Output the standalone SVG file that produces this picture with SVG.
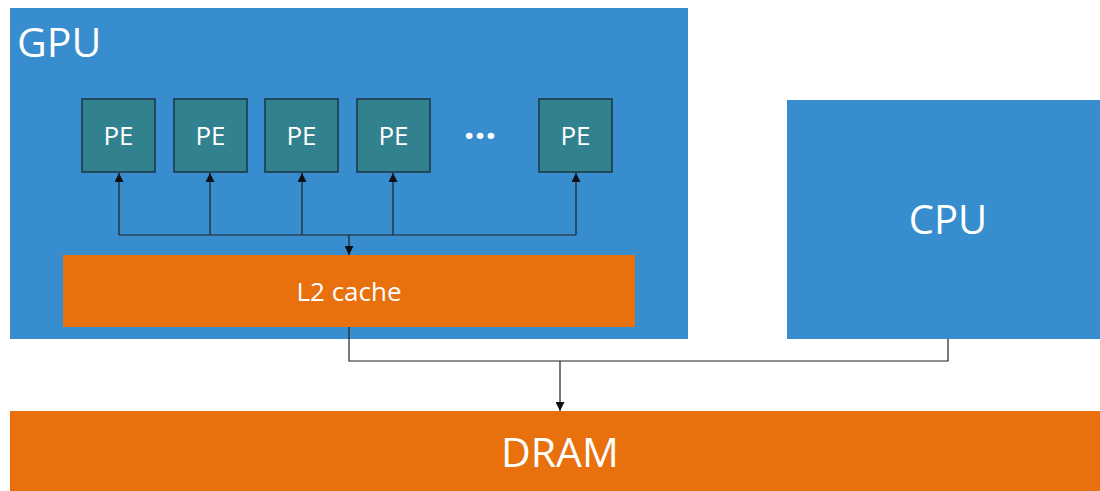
<svg xmlns="http://www.w3.org/2000/svg" width="1100" height="491" viewBox="0 0 1100 491">
  <style>
    .chip { fill: #378dcd; }
    .mem { fill: #e8700d; }
    .pe rect { fill: #31818f; stroke: #1b3440; stroke-width: 1.5; }
    text { font-family: "Open Sans", "Noto Sans", sans-serif; fill: #ffffff; }
    .pe text { font-size: 26px; text-anchor: middle; }
    .wire { fill: none; stroke: #222222; stroke-width: 1.2; }
  </style>
  <defs>
    <marker id="arrow" viewBox="0 0 10 10" refX="10" refY="5" markerWidth="10" markerHeight="9" markerUnits="userSpaceOnUse" orient="auto">
      <path d="M0,0 L10,5 L0,10 z" fill="#111111"/>
    </marker>
  </defs>
  <rect width="1100" height="491" fill="#ffffff"/>

  <g id="gpu">
    <rect class="chip" x="10" y="8" width="678" height="331"/>
    <text x="17" y="57" font-size="41">GPU</text>
  </g>

  <g id="cpu">
    <rect class="chip" x="787" y="100" width="313" height="239"/>
    <text x="948" y="234" font-size="40" text-anchor="middle">CPU</text>
  </g>

  <g id="pe1" class="pe">
    <rect x="82" y="99" width="73" height="73"/>
    <text x="118.5" y="145">PE</text>
  </g>
  <g id="pe2" class="pe">
    <rect x="174" y="99" width="73" height="73"/>
    <text x="210.5" y="145">PE</text>
  </g>
  <g id="pe3" class="pe">
    <rect x="265" y="99" width="73" height="73"/>
    <text x="301.5" y="145">PE</text>
  </g>
  <g id="pe4" class="pe">
    <rect x="357" y="99" width="73" height="73"/>
    <text x="393.5" y="145">PE</text>
  </g>
  <g id="ellipsis">
    <text x="480" y="139" font-size="38" font-weight="bold" text-anchor="middle">…</text>
  </g>
  <g id="pe5" class="pe">
    <rect x="539" y="99" width="73" height="73"/>
    <text x="575.5" y="145">PE</text>
  </g>

  <g id="l2cache">
    <rect class="mem" x="63" y="255" width="572" height="72"/>
    <text x="349" y="301" font-size="26" text-anchor="middle">L2 cache</text>
  </g>

  <g id="dram">
    <rect class="mem" x="10" y="411" width="1090" height="80"/>
    <text x="560" y="467" font-size="41" text-anchor="middle">DRAM</text>
  </g>

  <g id="connectors">
    <!-- shared bus from the cache up to each PE -->
    <path class="wire" d="M119,235 H576"/>
    <path class="wire" d="M119,235 V173" marker-end="url(#arrow)"/>
    <path class="wire" d="M210,235 V173" marker-end="url(#arrow)"/>
    <path class="wire" d="M302,235 V173" marker-end="url(#arrow)"/>
    <path class="wire" d="M393,235 V173" marker-end="url(#arrow)"/>
    <path class="wire" d="M576,235 V173" marker-end="url(#arrow)"/>
    <path class="wire" d="M349,235 V255" marker-end="url(#arrow)"/>
    <!-- cache and CPU joined to DRAM -->
    <path class="wire" d="M349,327 V361 H948 V339"/>
    <path class="wire" d="M560,361 V411" marker-end="url(#arrow)"/>
  </g>
</svg>
